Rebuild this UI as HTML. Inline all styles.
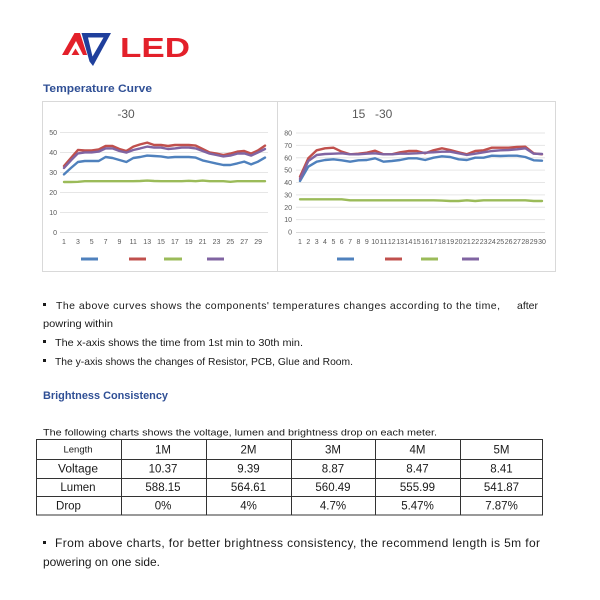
<!DOCTYPE html>
<html>
<head>
<meta charset="utf-8">
<style>
  html,body{margin:0;padding:0;background:#fff;}
  svg{display:block;}
  text{font-family:"Liberation Sans","Noto Sans CJK SC",sans-serif;}
</style>
</head>
<body>
<svg width="600" height="600" viewBox="0 0 600 600" xmlns="http://www.w3.org/2000/svg">
  <rect x="0" y="0" width="600" height="600" fill="#fff"/>

  <!-- Logo -->
  <polygon points="62,55 74.5,33 84,33 88.5,55" fill="#e3202a"/>
  <polygon points="68,55 76,41 83,55" fill="#fff"/>
  <polygon points="71.5,55 75.5,48.5 79.5,55" fill="#e3202a"/>
  <polygon points="80,33 111,33 93,66 89,61" fill="#fff"/>
  <polygon points="81.5,33 111,33 93,66 89.5,61.5" fill="#1f3f9c"/>
  <polygon points="88,37.5 103.5,37.5 92.5,56.5" fill="#fff"/>
  <text x="120" y="57" font-size="28" font-weight="bold" fill="#e3202a" textLength="70" lengthAdjust="spacingAndGlyphs">LED</text>

  <text x="43" y="92" font-size="11" font-weight="bold" fill="#2f4f95" textLength="109" lengthAdjust="spacingAndGlyphs">Temperature Curve</text>

  <!-- Chart frame -->
  <rect x="42.5" y="101.5" width="513" height="170" fill="#fff" stroke="#d9d9d9" stroke-width="1"/>
  <line x1="277.5" y1="101.5" x2="277.5" y2="271.5" stroke="#d9d9d9" stroke-width="1"/>

  <!-- Chart 1 -->
  <g stroke="#e6e6e6" stroke-width="1">
    <line x1="60" y1="132.5" x2="268" y2="132.5"/>
    <line x1="60" y1="152.5" x2="268" y2="152.5"/>
    <line x1="60" y1="172.5" x2="268" y2="172.5"/>
    <line x1="60" y1="192.5" x2="268" y2="192.5"/>
    <line x1="60" y1="212.5" x2="268" y2="212.5"/>
    <line x1="60" y1="232.5" x2="268" y2="232.5" stroke="#d9d9d9"/>
  </g>
  <g font-size="7" fill="#595959" text-anchor="end">
    <text x="57" y="135">50</text>
    <text x="57" y="155">40</text>
    <text x="57" y="175">30</text>
    <text x="57" y="195">20</text>
    <text x="57" y="215">10</text>
    <text x="57" y="235">0</text>
  </g>
  <g font-size="7" fill="#595959" text-anchor="middle">
    <text x="64" y="244">1</text>
    <text x="77.9" y="244">3</text>
    <text x="91.7" y="244">5</text>
    <text x="105.6" y="244">7</text>
    <text x="119.4" y="244">9</text>
    <text x="133.3" y="244">11</text>
    <text x="147.2" y="244">13</text>
    <text x="161" y="244">15</text>
    <text x="174.9" y="244">17</text>
    <text x="188.8" y="244">19</text>
    <text x="202.6" y="244">21</text>
    <text x="216.5" y="244">23</text>
    <text x="230.3" y="244">25</text>
    <text x="244.2" y="244">27</text>
    <text x="258.1" y="244">29</text>
  </g>
  <text x="126" y="118" font-size="12" fill="#595959" text-anchor="middle">-30</text>

  <g fill="none" stroke-width="2.4" stroke-linejoin="round" stroke-linecap="round">
    <polyline stroke="#9bbb59" points="64,182 70.9,182 77.9,181.8 84.8,181.2 91.7,181.2 98.7,181.2 105.6,181.2 112.5,181.2 119.4,181.2 126.4,181.2 133.3,181.2 140.2,181 147.2,180.6 154.1,181 161,181.2 168,181.2 174.9,181.2 181.8,181.2 188.8,180.8 195.7,181.2 202.6,180.6 209.6,181.2 216.5,181.2 223.4,181.2 230.3,181.8 237.3,181.2 244.2,181.2 251.1,181.2 258.1,181.2 265,181.2"/>
    <polyline stroke="#4f81bd" points="64,174.4 70.9,168 77.9,162 84.8,161 91.7,161 98.7,161 105.6,157 112.5,158 119.4,160 126.4,162 133.3,158 140.2,157 147.2,155.6 154.1,156 161,156.4 168,157.6 174.9,157 181.8,157 188.8,157 195.7,157.6 202.6,160.4 209.6,162 216.5,163.6 223.4,165 230.3,165 237.3,163.4 244.2,161.6 251.1,164.4 258.1,161.6 265,157.6"/>
    <polyline stroke="#c0504d" points="64,166 70.9,158 77.9,150 84.8,150.4 91.7,150.4 98.7,149.4 105.6,146 112.5,146 119.4,149 126.4,151 133.3,146.6 140.2,144.4 147.2,142.6 154.1,145 161,145 168,146 174.9,145 181.8,145 188.8,145 195.7,145.6 202.6,149 209.6,152.4 216.5,153.6 223.4,155 230.3,153.6 237.3,151.6 244.2,151 251.1,153.6 258.1,150.4 265,145.6"/>
    <polyline stroke="#8064a2" points="64,168 70.9,160.4 77.9,153.4 84.8,152.4 91.7,152.4 98.7,151.6 105.6,148.4 112.5,148.4 119.4,151 126.4,152.6 133.3,150 140.2,148.4 147.2,146.6 154.1,147.6 161,147.6 168,149 174.9,148.4 181.8,147.6 188.8,147.6 195.7,148.4 202.6,151 209.6,153.6 216.5,155 223.4,156.4 230.3,155.6 237.3,153.6 244.2,153.4 251.1,155.6 258.1,152.4 265,149"/>
  </g>
  <g stroke-width="3">
    <line x1="81" y1="259" x2="98" y2="259" stroke="#4f81bd"/>
    <line x1="129" y1="259" x2="146" y2="259" stroke="#c0504d"/>
    <line x1="164" y1="259" x2="182" y2="259" stroke="#9bbb59"/>
    <line x1="207" y1="259" x2="224" y2="259" stroke="#8064a2"/>
  </g>

  <!-- Chart 2 -->
  <g stroke="#e6e6e6" stroke-width="1">
    <line x1="296" y1="133" x2="545" y2="133"/>
    <line x1="296" y1="145.4" x2="545" y2="145.4"/>
    <line x1="296" y1="157.8" x2="545" y2="157.8"/>
    <line x1="296" y1="170.1" x2="545" y2="170.1"/>
    <line x1="296" y1="182.5" x2="545" y2="182.5"/>
    <line x1="296" y1="194.9" x2="545" y2="194.9"/>
    <line x1="296" y1="207.3" x2="545" y2="207.3"/>
    <line x1="296" y1="219.6" x2="545" y2="219.6"/>
    <line x1="296" y1="232.5" x2="545" y2="232.5" stroke="#d9d9d9"/>
  </g>
  <g font-size="7" fill="#595959" text-anchor="end">
    <text x="292" y="135.5">80</text>
    <text x="292" y="147.9">70</text>
    <text x="292" y="160.3">60</text>
    <text x="292" y="172.6">50</text>
    <text x="292" y="185">40</text>
    <text x="292" y="197.4">30</text>
    <text x="292" y="209.8">20</text>
    <text x="292" y="222.1">10</text>
    <text x="292" y="234.5">0</text>
  </g>
  <g font-size="7" fill="#595959" text-anchor="middle">
    <text x="300" y="244">1</text>
    <text x="308.3" y="244">2</text>
    <text x="316.7" y="244">3</text>
    <text x="325" y="244">4</text>
    <text x="333.4" y="244">5</text>
    <text x="341.7" y="244">6</text>
    <text x="350.1" y="244">7</text>
    <text x="358.4" y="244">8</text>
    <text x="366.8" y="244">9</text>
    <text x="375.1" y="244" textLength="7.8" lengthAdjust="spacingAndGlyphs">10</text>
    <text x="383.5" y="244" textLength="7.8" lengthAdjust="spacingAndGlyphs">11</text>
    <text x="391.8" y="244" textLength="7.8" lengthAdjust="spacingAndGlyphs">12</text>
    <text x="400.1" y="244" textLength="7.8" lengthAdjust="spacingAndGlyphs">13</text>
    <text x="408.5" y="244" textLength="7.8" lengthAdjust="spacingAndGlyphs">14</text>
    <text x="416.8" y="244" textLength="7.8" lengthAdjust="spacingAndGlyphs">15</text>
    <text x="425.2" y="244" textLength="7.8" lengthAdjust="spacingAndGlyphs">16</text>
    <text x="433.5" y="244" textLength="7.8" lengthAdjust="spacingAndGlyphs">17</text>
    <text x="441.9" y="244" textLength="7.8" lengthAdjust="spacingAndGlyphs">18</text>
    <text x="450.2" y="244" textLength="7.8" lengthAdjust="spacingAndGlyphs">19</text>
    <text x="458.6" y="244" textLength="7.8" lengthAdjust="spacingAndGlyphs">20</text>
    <text x="466.9" y="244" textLength="7.8" lengthAdjust="spacingAndGlyphs">21</text>
    <text x="475.2" y="244" textLength="7.8" lengthAdjust="spacingAndGlyphs">22</text>
    <text x="483.6" y="244" textLength="7.8" lengthAdjust="spacingAndGlyphs">23</text>
    <text x="491.9" y="244" textLength="7.8" lengthAdjust="spacingAndGlyphs">24</text>
    <text x="500.3" y="244" textLength="7.8" lengthAdjust="spacingAndGlyphs">25</text>
    <text x="508.6" y="244" textLength="7.8" lengthAdjust="spacingAndGlyphs">26</text>
    <text x="517" y="244" textLength="7.8" lengthAdjust="spacingAndGlyphs">27</text>
    <text x="525.3" y="244" textLength="7.8" lengthAdjust="spacingAndGlyphs">28</text>
    <text x="533.7" y="244" textLength="7.8" lengthAdjust="spacingAndGlyphs">29</text>
    <text x="542" y="244" textLength="7.8" lengthAdjust="spacingAndGlyphs">30</text>
  </g>
  <text x="352" y="118" font-size="12" fill="#595959">15</text>
  <text x="375" y="118" font-size="12" fill="#595959">-30</text>

  <g fill="none" stroke-width="2.4" stroke-linejoin="round" stroke-linecap="round">
    <polyline stroke="#9bbb59" points="300,199.3 308.3,199.3 316.7,199.3 325,199.3 333.4,199.3 341.7,199.3 350.1,200.3 358.4,200.3 366.8,200.3 375.1,200.3 383.5,200.3 391.8,200.3 400.1,200.3 408.5,200.3 416.8,200.3 425.2,200.3 433.5,200.3 441.9,200.6 450.2,201 458.6,201 466.9,200.3 475.2,201 483.6,200.3 491.9,200.3 500.3,200.3 508.6,200.3 517,200.3 525.3,200.3 533.7,201 542,201"/>
    <polyline stroke="#4f81bd" points="300,181 308.3,166.7 316.7,161.7 325,160 333.4,159.3 341.7,160.3 350.1,161.7 358.4,160.3 366.8,160 375.1,158.3 383.5,161.7 391.8,161 400.1,160 408.5,158.3 416.8,158.3 425.2,160 433.5,157.7 441.9,156.3 450.2,157 458.6,159.3 466.9,160 475.2,157.7 483.6,157.7 491.9,155.7 500.3,156 508.6,155.7 517,155.7 525.3,157 533.7,160.3 542,160.7"/>
    <polyline stroke="#c0504d" points="300,176.7 308.3,158.3 316.7,150.3 325,148.3 333.4,147.7 341.7,151.7 350.1,154.3 358.4,153.7 366.8,152.7 375.1,150.7 383.5,154.3 391.8,154.3 400.1,152.3 408.5,151 416.8,151 425.2,153.3 433.5,150.3 441.9,148.3 450.2,150 458.6,152.3 466.9,154.3 475.2,151 483.6,150.3 491.9,147.7 500.3,147.7 508.6,147.7 517,147 525.3,146.7 533.7,153.3 542,154.3"/>
    <polyline stroke="#8064a2" points="300,179 308.3,161 316.7,155 325,154 333.4,153.7 341.7,153.3 350.1,154.3 358.4,154.3 366.8,153.7 375.1,153.3 383.5,154.3 391.8,154.3 400.1,153.7 408.5,153.7 416.8,153.3 425.2,152.7 433.5,152.3 441.9,151.7 450.2,151.7 458.6,153.3 466.9,155 475.2,153.7 483.6,152.3 491.9,151 500.3,150.3 508.6,150 517,149.3 525.3,148.3 533.7,153.7 542,154"/>
  </g>
  <g stroke-width="3">
    <line x1="337" y1="259" x2="354" y2="259" stroke="#4f81bd"/>
    <line x1="385" y1="259" x2="402" y2="259" stroke="#c0504d"/>
    <line x1="421" y1="259" x2="438" y2="259" stroke="#9bbb59"/>
    <line x1="462" y1="259" x2="479" y2="259" stroke="#8064a2"/>
  </g>

  <!-- Bullets -->
  <g fill="#1a1a1a" font-size="10.5">
    <rect x="43" y="303" width="3" height="3"/>
    <text x="56" y="309" textLength="444" lengthAdjust="spacing">The above curves shows the components' temperatures changes according to the time,</text>
    <text x="517" y="309" textLength="21" lengthAdjust="spacingAndGlyphs">after</text>
    <text x="43" y="327" textLength="70" lengthAdjust="spacingAndGlyphs">powring within</text>
    <rect x="43" y="340" width="3" height="3"/>
    <text x="55" y="346" textLength="248" lengthAdjust="spacingAndGlyphs">The x-axis shows the time from 1st min to 30th min.</text>
    <rect x="43" y="359" width="3" height="3"/>
    <text x="55" y="365" textLength="298" lengthAdjust="spacingAndGlyphs">The y-axis shows the changes of Resistor, PCB, Glue and Room.</text>
  </g>

  <text x="43" y="399" font-size="11" font-weight="bold" fill="#2f4f95" textLength="125" lengthAdjust="spacingAndGlyphs">Brightness Consistency</text>

  <text x="43" y="435.5" font-size="9.5" fill="#1a1a1a" textLength="394" lengthAdjust="spacingAndGlyphs">The following charts shows the voltage, lumen and brightness drop on each meter.</text>

  <!-- Table -->
  <g stroke="#333" stroke-width="1" fill="none">
    <rect x="36.5" y="439.5" width="506" height="75.5"/>
    <line x1="36.5" y1="459.5" x2="542.5" y2="459.5"/>
    <line x1="36.5" y1="478.5" x2="542.5" y2="478.5"/>
    <line x1="36.5" y1="496.5" x2="542.5" y2="496.5"/>
    <line x1="121.5" y1="439.5" x2="121.5" y2="515"/>
    <line x1="206.5" y1="439.5" x2="206.5" y2="515"/>
    <line x1="291.5" y1="439.5" x2="291.5" y2="515"/>
    <line x1="375.5" y1="439.5" x2="375.5" y2="515"/>
    <line x1="460.5" y1="439.5" x2="460.5" y2="515"/>
  </g>
  <g fill="#1a1a1a" font-size="11.5" text-anchor="middle">
    <text x="78" y="452.5" font-size="9.5">Length</text>
    <text x="163" y="453.5">1M</text>
    <text x="248.5" y="453.5">2M</text>
    <text x="333" y="453.5">3M</text>
    <text x="417.5" y="453.5">4M</text>
    <text x="501.5" y="453.5">5M</text>

    <text x="78" y="472.5" textLength="40" lengthAdjust="spacingAndGlyphs">Voltage</text>
    <text x="163" y="472.5">10.37</text>
    <text x="248.5" y="472.5">9.39</text>
    <text x="333" y="472.5">8.87</text>
    <text x="417.5" y="472.5">8.47</text>
    <text x="501.5" y="472.5">8.41</text>

    <text x="78" y="491">Lumen</text>
    <text x="163" y="491">588.15</text>
    <text x="248.5" y="491">564.61</text>
    <text x="333" y="491">560.49</text>
    <text x="417.5" y="491">555.99</text>
    <text x="501.5" y="491">541.87</text>

    <text x="68.5" y="509.5">Drop</text>
    <text x="163" y="509.5">0%</text>
    <text x="248.5" y="509.5">4%</text>
    <text x="333" y="509.5">4.7%</text>
    <text x="417.5" y="509.5">5.47%</text>
    <text x="501.5" y="509.5">7.87%</text>
  </g>

  <!-- Final note -->
  <g fill="#1a1a1a" font-size="12">
    <rect x="43" y="541" width="3" height="3"/>
    <text x="55" y="547" textLength="485" lengthAdjust="spacing">From above charts, for better brightness consistency, the recommend length is 5m for</text>
    <text x="43" y="566" textLength="117" lengthAdjust="spacingAndGlyphs">powering on one side.</text>
  </g>
</svg>
</body>
</html>
